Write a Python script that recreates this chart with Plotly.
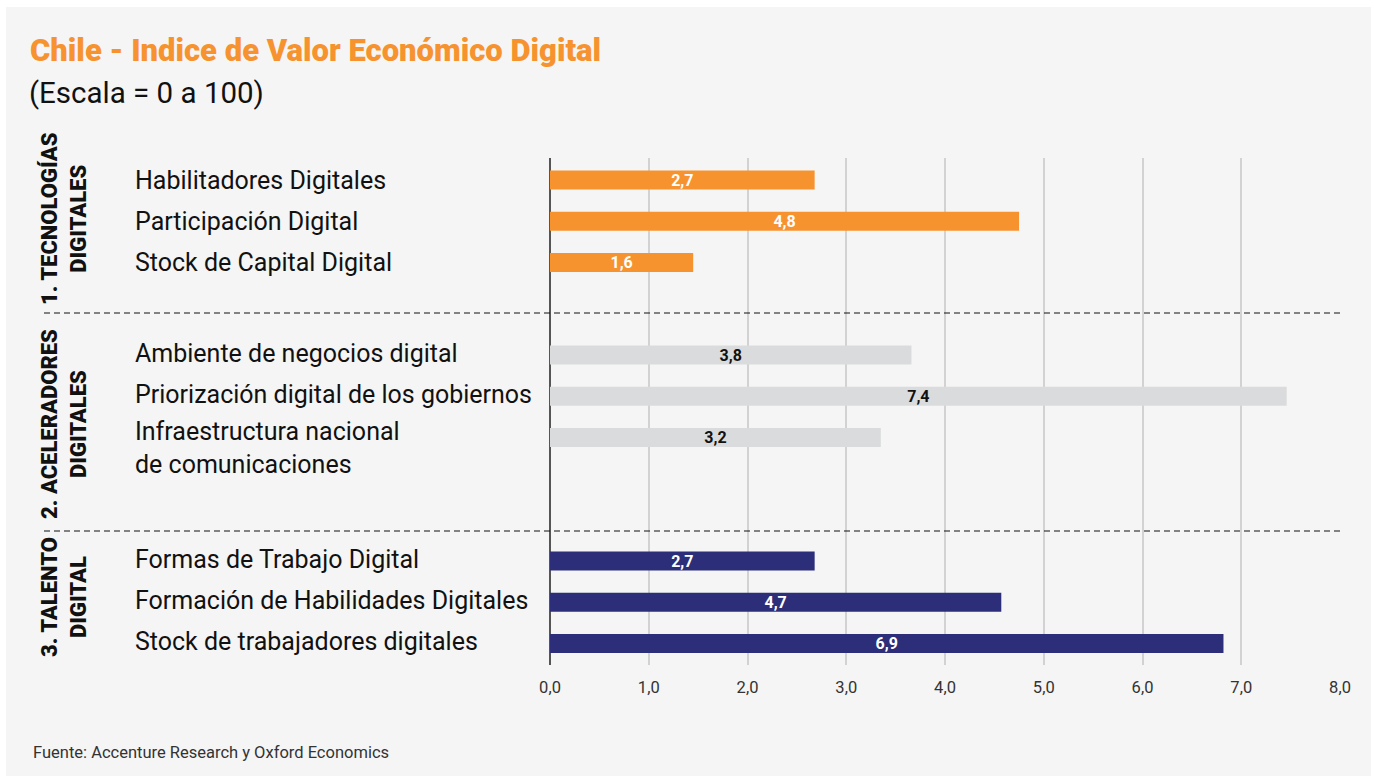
import plotly.graph_objects as go

# Datos del gráfico
grupos = ["1. TECNOLOGÍAS<br>DIGITALES", "2. ACELERADORES<br>DIGITALES", "3. TALENTO<br>DIGITAL"]
categorias = [
    ["Habilitadores Digitales", "Participación Digital", "Stock de Capital Digital"],
    ["Ambiente de negocios digital", "Priorización digital de los gobiernos",
     "Infraestructura nacional<br>de comunicaciones"],
    ["Formas de Trabajo Digital", "Formación de Habilidades Digitales", "Stock de trabajadores digitales"],
]
valores = [
    [2.68, 4.75, 1.45],
    [3.66, 7.46, 3.35],
    [2.68, 4.57, 6.82],
]
etiquetas = [
    ["2,7", "4,8", "1,6"],
    ["3,8", "7,4", "3,2"],
    ["2,7", "4,7", "6,9"],
]
tick_vals = [0, 1, 2, 3, 4, 5, 6, 7, 8]
tick_text = ["0,0", "1,0", "2,0", "3,0", "4,0", "5,0", "6,0", "7,0", "8,0"]

titulo = "Chile - Indice de Valor Económico Digital"
subtitulo = "(Escala = 0 a 100)"
fuente = "Fuente: Accenture Research y Oxford Economics"

# Estilo
W, H = 1374, 776
ML, MR, MT, MB = 550, 34, 158, 111
BG = "#F5F5F5"
colores = ["#F7932F", "#DADBDC", "#2C2E7A"]
colores_texto = ["white", "#111111", "white"]
FONT = "Roboto"

# filas: 3 por grupo, con separación entre grupos
offsets = [0, 4.25, 9.25]
ROW_PX = 41.2
ROW0_PX = 180
Y_TOP = (MT - ROW0_PX) / ROW_PX
Y_BOT = (H - MB - ROW0_PX) / ROW_PX


def px2x(px):
    return (px - ML) / (W - ML - MR)


def py2y(py):
    return (H - MB - py) / (H - MT - MB)


def py2d(py):
    return (py - ROW0_PX) / ROW_PX


fig = go.Figure()

for g in range(3):
    ys = [offsets[g] + i for i in range(3)]
    fig.add_trace(go.Bar(
        x=valores[g],
        y=ys,
        orientation='h',
        width=0.46,
        marker=dict(color=colores[g], line=dict(width=0)),
        text=etiquetas[g],
        textposition='inside',
        insidetextanchor='middle',
        textangle=0,
        constraintext='none',
        textfont=dict(family=FONT, size=16, color=colores_texto[g], weight=700),
        hoverinfo='skip',
        showlegend=False,
    ))

annotations = []

# etiquetas de categoría; las de dos líneas se bajan para que la primera quede junto a la barra
for g in range(3):
    for i, cat in enumerate(categorias[g]):
        n_lineas = cat.count("<br>") + 1
        annotations.append(dict(
            x=px2x(133), xref='paper', y=offsets[g] + i, yref='y',
            text=cat, showarrow=False, xanchor='left', yanchor='middle', align='left',
            yshift=(2 if g > 0 else 0) - 12 * (n_lineas - 1),
            font=dict(family=FONT, size=25, color="#111111"),
        ))

# etiquetas de grupo, verticales
grupo_y_px = [219, 424, 597]
for g in range(3):
    annotations.append(dict(
        x=px2x(64), xref='paper', y=py2d(grupo_y_px[g]), yref='y',
        text=grupos[g], showarrow=False, textangle=-90, align='center',
        xanchor='center', yanchor='middle',
        font=dict(family=FONT, size=22, color="#111111", weight=900),
    ))

annotations += [
    dict(x=px2x(28), xref='paper', y=py2y(50), yref='paper', text=titulo,
         showarrow=False, xanchor='left', yanchor='middle',
         font=dict(family=FONT, size=31, color="#F7932F", weight=900)),
    dict(x=px2x(27), xref='paper', y=py2y(93), yref='paper', text=subtitulo,
         showarrow=False, xanchor='left', yanchor='middle',
         font=dict(family=FONT, size=29.5, color="#111111")),
    dict(x=px2x(31), xref='paper', y=py2y(752), yref='paper', text=fuente,
         showarrow=False, xanchor='left', yanchor='middle',
         font=dict(family=FONT, size=16.5, color="#333333")),
]

shapes = [
    # fondo gris
    dict(type='rect', xref='paper', yref='paper', x0=px2x(6), x1=px2x(1371),
         y0=py2y(776), y1=py2y(7), fillcolor=BG, line=dict(width=0), layer='below'),
]
for sep_px in [313, 531]:
    shapes.append(dict(type='line', xref='paper', yref='y', x0=px2x(44), x1=1.0,
                       y0=py2d(sep_px), y1=py2d(sep_px),
                       line=dict(color="#111111", width=1.2, dash='6px,4px')))

fig.update_layout(
    width=W, height=H,
    margin=dict(l=ML, r=MR, t=MT, b=MB, pad=0),
    paper_bgcolor="white",
    plot_bgcolor=BG,
    barmode='overlay',
    hovermode=False,
    xaxis=dict(
        range=[0, 8], tickvals=tick_vals, ticktext=tick_text,
        showgrid=True, gridcolor="#D2D2D2", gridwidth=1.5,
        zeroline=True, zerolinecolor="#555555", zerolinewidth=1.5,
        showline=False, ticks='outside', ticklen=7, tickcolor=BG,
        tickfont=dict(family=FONT, size=16.5, color="#333333"),
        fixedrange=True,
    ),
    yaxis=dict(
        range=[Y_BOT, Y_TOP], showgrid=False, zeroline=False,
        showticklabels=False, fixedrange=True,
    ),
    annotations=annotations,
    shapes=shapes,
)

fig.write_html("out.html", config=dict(displayModeBar=False),
               post_script="document.body.style.margin='0';")
